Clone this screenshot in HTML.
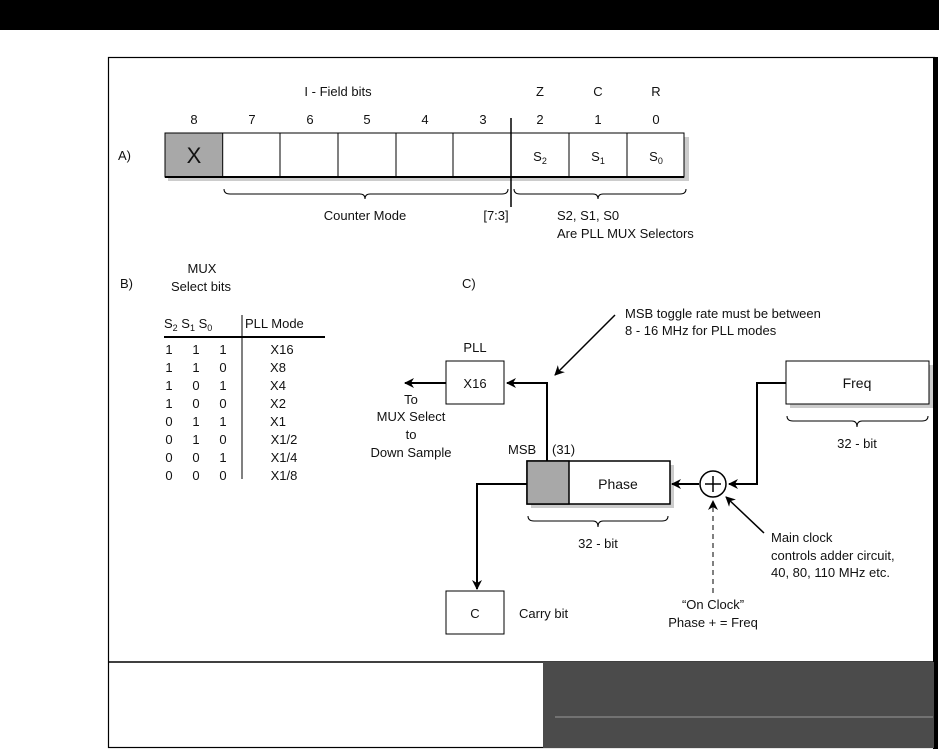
<!DOCTYPE html>
<html><head><style>
body{margin:0;background:#fff;}
svg{display:block;font-family:"Liberation Sans",sans-serif;}
text{fill:#111;}
</style></head><body>
<svg width="939" height="751" viewBox="0 0 939 751" xmlns="http://www.w3.org/2000/svg">
<defs>
<marker id="ah" markerWidth="10" markerHeight="10" refX="9" refY="5" orient="auto" markerUnits="userSpaceOnUse">
<path d="M0,0 L10,5 L0,10 L3,5 Z" fill="#000"/></marker>
</defs>
<rect x="0" y="0" width="939" height="30" fill="#000"/>
<rect x="108.5" y="57.5" width="826" height="690" fill="none" stroke="#000" stroke-width="1.2"/>
<rect x="933" y="57" width="5" height="692" fill="#000"/>
<line x1="108" y1="662" x2="935" y2="662" stroke="#000" stroke-width="1.5"/>
<rect x="543" y="662" width="391" height="86" fill="#4b4b4b"/>
<line x1="555" y1="717" x2="933" y2="717" stroke="#999" stroke-width="1"/>

<g font-size="13" text-anchor="middle">
<text x="338" y="96">I - Field bits</text>
<text x="540" y="96">Z</text><text x="598" y="96">C</text><text x="656" y="96">R</text>
<text x="194" y="124">8</text><text x="252" y="124">7</text><text x="310" y="124">6</text><text x="367" y="124">5</text><text x="425" y="124">4</text><text x="483" y="124">3</text>
<text x="540" y="124">2</text><text x="598" y="124">1</text><text x="656" y="124">0</text>
</g>
<text x="118" y="160" font-size="13">A)</text>
<rect x="168" y="137" width="521" height="44" fill="#ccc"/>
<rect x="165" y="133" width="519" height="44" fill="#fff" stroke="#000" stroke-width="1"/>
<rect x="165" y="133" width="57.7" height="44" fill="#a8a8a8" stroke="#000" stroke-width="1"/>
<line x1="165" y1="177" x2="684" y2="177" stroke="#000" stroke-width="2"/>
<g stroke="#000" stroke-width="1">
<line x1="280" y1="133" x2="280" y2="177"/><line x1="338" y1="133" x2="338" y2="177"/><line x1="396" y1="133" x2="396" y2="177"/><line x1="453" y1="133" x2="453" y2="177"/><line x1="569" y1="133" x2="569" y2="177"/><line x1="627" y1="133" x2="627" y2="177"/>
</g>
<line x1="511" y1="118" x2="511" y2="207" stroke="#000" stroke-width="1.5"/>
<text x="194" y="163" font-size="22" text-anchor="middle">X</text>
<g font-size="13" text-anchor="middle">
<text x="540" y="161">S<tspan font-size="9" dy="3">2</tspan></text>
<text x="598" y="161">S<tspan font-size="9" dy="3">1</tspan></text>
<text x="656" y="161">S<tspan font-size="9" dy="3">0</tspan></text>
</g>
<g fill="none" stroke="#000" stroke-width="1">
<path d="M224,189 Q224,194 230,194 L360,194 Q365,194 365,199 Q365,194 370,194 L502,194 Q508,194 508,189"/>
<path d="M514,189 Q514,194 520,194 L593,194 Q598,194 598,199 Q598,194 603,194 L680,194 Q686,194 686,189"/>
</g>
<g font-size="13">
<text x="365" y="220" text-anchor="middle">Counter Mode</text>
<text x="496" y="220" text-anchor="middle">[7:3]</text>
<text x="557" y="220">S2, S1, S0</text>
<text x="557" y="238">Are PLL MUX Selectors</text>
</g>

<!-- B -->
<g font-size="13">
<text x="120" y="288">B)</text>
<text x="202" y="273" text-anchor="middle">MUX</text>
<text x="201" y="291" text-anchor="middle">Select bits</text>
<text x="164" y="328">S<tspan font-size="9" dy="3">2</tspan><tspan dy="-3"> S</tspan><tspan font-size="9" dy="3">1</tspan><tspan dy="-3"> S</tspan><tspan font-size="9" dy="3">0</tspan></text>
<text x="245" y="328">PLL Mode</text>
</g>
<line x1="164" y1="337" x2="325" y2="337" stroke="#000" stroke-width="2"/>
<line x1="242" y1="315" x2="242" y2="479" stroke="#000" stroke-width="1"/>
<g font-size="13" text-anchor="middle">
<text x="169" y="354">1</text><text x="196" y="354">1</text><text x="223" y="354">1</text><text x="282" y="354">X16</text>
<text x="169" y="372">1</text><text x="196" y="372">1</text><text x="223" y="372">0</text><text x="278" y="372">X8</text>
<text x="169" y="390">1</text><text x="196" y="390">0</text><text x="223" y="390">1</text><text x="278" y="390">X4</text>
<text x="169" y="408">1</text><text x="196" y="408">0</text><text x="223" y="408">0</text><text x="278" y="408">X2</text>
<text x="169" y="426">0</text><text x="196" y="426">1</text><text x="223" y="426">1</text><text x="278" y="426">X1</text>
<text x="169" y="444">0</text><text x="196" y="444">1</text><text x="223" y="444">0</text><text x="284" y="444">X1/2</text>
<text x="169" y="462">0</text><text x="196" y="462">0</text><text x="223" y="462">1</text><text x="284" y="462">X1/4</text>
<text x="169" y="480">0</text><text x="196" y="480">0</text><text x="223" y="480">0</text><text x="284" y="480">X1/8</text>
</g>

<!-- C shapes -->
<rect x="446" y="361" width="58" height="43" fill="none" stroke="#000" stroke-width="1"/>
<rect x="446" y="591" width="58" height="43" fill="none" stroke="#000" stroke-width="1"/>
<rect x="790" y="365" width="143" height="43" fill="#ccc"/>
<rect x="786" y="361" width="143" height="43" fill="#fff" stroke="#000" stroke-width="1"/>
<rect x="531" y="465" width="143" height="43" fill="#ccc"/>
<rect x="527" y="461" width="143" height="43" fill="#fff" stroke="#000" stroke-width="1.5"/>
<rect x="527" y="461" width="42" height="43" fill="#a8a8a8" stroke="#000" stroke-width="1.5"/>
<g fill="none" stroke="#000" stroke-width="1">
<path d="M528,516 Q528,521 534,521 L593,521 Q598,521 598,527 Q598,521 603,521 L662,521 Q668,521 668,516"/>
<path d="M787,416 Q787,421 793,421 L852,421 Q857,421 857,427 Q857,421 862,421 L922,421 Q928,421 928,416"/>
</g>
<g fill="none" stroke="#000" stroke-width="2">
<path d="M547,461 L547,383 L507,383" marker-end="url(#ah)"/>
<line x1="446" y1="383" x2="405" y2="383" marker-end="url(#ah)"/>
<path d="M527,484 L477,484 L477,589" marker-end="url(#ah)"/>
<path d="M786,383 L757,383 L757,484 L729,484" marker-end="url(#ah)"/>
<line x1="699" y1="484" x2="672" y2="484" marker-end="url(#ah)"/>
</g>
<g stroke="#000" stroke-width="1.5" fill="none">
<line x1="615" y1="315" x2="555" y2="375" marker-end="url(#ah)"/>
<line x1="764" y1="533" x2="726" y2="497" marker-end="url(#ah)"/>
<line x1="713" y1="593" x2="713" y2="501" stroke-dasharray="5,4" stroke-width="1" marker-end="url(#ah)"/>
</g>
<circle cx="713" cy="484" r="13" fill="#fff" stroke="#000" stroke-width="1.5"/>
<line x1="705" y1="484" x2="721" y2="484" stroke="#000" stroke-width="1.5"/>
<line x1="713" y1="476" x2="713" y2="492" stroke="#000" stroke-width="1.5"/>

<!-- C text -->
<g font-size="13">
<text x="462" y="288">C)</text>
<text x="625" y="318">MSB toggle rate must be between</text>
<text x="625" y="335">8 - 16 MHz for PLL modes</text>
<text x="475" y="352" text-anchor="middle">PLL</text>
<text x="411" y="404" text-anchor="middle">To</text>
<text x="411" y="421" text-anchor="middle">MUX Select</text>
<text x="411" y="439" text-anchor="middle">to</text>
<text x="411" y="457" text-anchor="middle">Down Sample</text>
<text x="508" y="454">MSB</text>
<text x="552" y="454">(31)</text>
<text x="618" y="489" text-anchor="middle" font-size="14">Phase</text>
<text x="857" y="388" text-anchor="middle" font-size="14">Freq</text>
<text x="475" y="618" text-anchor="middle">C</text>
<text x="519" y="618">Carry bit</text>
<text x="598" y="548" text-anchor="middle">32 - bit</text>
<text x="857" y="448" text-anchor="middle">32 - bit</text>
<text x="771" y="542">Main clock</text>
<text x="771" y="560">controls adder circuit,</text>
<text x="771" y="577">40, 80, 110 MHz etc.</text>
<text x="713" y="609" text-anchor="middle">“On Clock”</text>
<text x="713" y="627" text-anchor="middle">Phase + = Freq</text>
<text x="475" y="388" text-anchor="middle">X16</text>
</g>
</svg>
</body></html>
